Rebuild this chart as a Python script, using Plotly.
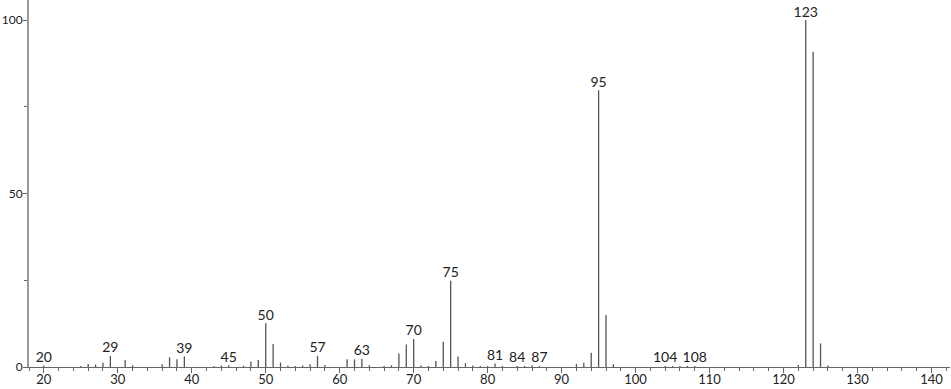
import plotly.graph_objects as go

masses = [20, 25, 26, 27, 28, 29, 31, 32, 36, 37, 38, 39, 43, 44, 45, 47, 48, 49,
          50, 51, 52, 53, 54, 55, 56, 57, 58, 61, 62, 63, 64, 66, 67, 68, 69, 70,
          71, 72, 73, 74, 75, 76, 77, 78, 79, 80, 81, 82, 84, 85, 86, 87, 92, 93,
          94, 95, 96, 97, 104, 105, 106, 107, 108, 122, 123, 124, 125, 126]
intensities = [0.4, 0.3, 0.9, 0.7, 1.2, 3.2, 2.0, 0.5, 0.8, 2.8, 2.2, 3.0, 0.3, 0.4,
               0.5, 0.4, 1.5, 2.0, 12.6, 6.6, 1.3, 0.4, 0.3, 0.4, 0.8, 3.2, 0.6,
               2.2, 2.2, 2.4, 0.5, 0.3, 0.5, 3.9, 6.5, 8.1, 0.4, 0.3, 1.7, 7.3,
               24.9, 3.0, 1.1, 0.4, 0.3, 0.3, 1.0, 0.3, 0.3, 0.3, 0.4, 0.3, 0.9,
               1.2, 4.1, 79.8, 15.0, 0.8, 0.3, 0.3, 0.3, 0.3, 0.3, 0.6, 100.0,
               90.9, 6.8, 0.4]
labeled_masses = [20, 29, 39, 45, 50, 57, 63, 70, 75, 81, 84, 87, 95, 104, 108, 123]

x_range = [18, 142.5]
y_range = [0, 105.8]

lx, ly = [], []
for m, v in zip(masses, intensities):
    lx += [m, m, None]
    ly += [0, v, None]

inten = dict(zip(masses, intensities))
tx = labeled_masses
ty = [inten[m] for m in labeled_masses]

fig = go.Figure()
fig.add_trace(go.Scatter(x=lx, y=ly, mode="lines",
                         line=dict(color="#555555", width=1.3),
                         hoverinfo="skip", showlegend=False))
fig.add_trace(go.Scatter(x=tx, y=ty, mode="text", text=[str(m) for m in tx],
                         textposition="top center",
                         textfont=dict(family="Lato", size=14, color="#222222"),
                         showlegend=False))

fig.update_layout(
    width=951, height=389,
    margin=dict(l=29, r=1, t=0, b=22),
    plot_bgcolor="white", paper_bgcolor="white",
    font=dict(family="Lato", size=14, color="#222222"),
    xaxis=dict(range=x_range, showgrid=False, zeroline=False, automargin=False,
               showline=True, linecolor="#666666", linewidth=1,
               tickmode="linear", tick0=20, dtick=10,
               ticks="outside", ticklen=5, tickcolor="#666666",
               ticklabelstandoff=-5,
               minor=dict(dtick=2, ticks="outside", ticklen=3, tickcolor="#666666"),
               tickfont=dict(size=13)),
    yaxis=dict(range=y_range, showgrid=False, zeroline=False, automargin=False,
               showline=True, linecolor="#999999", linewidth=2,
               tickmode="array", tickvals=[0, 50, 100],
               ticks="outside", ticklen=4, tickcolor="#666666",
               ticklabelstandoff=-2,
               minor=dict(tickvals=[25, 75], ticks="outside", ticklen=3, tickcolor="#666666"),
               tickfont=dict(size=12)),
)

fig.write_html("out.html")
